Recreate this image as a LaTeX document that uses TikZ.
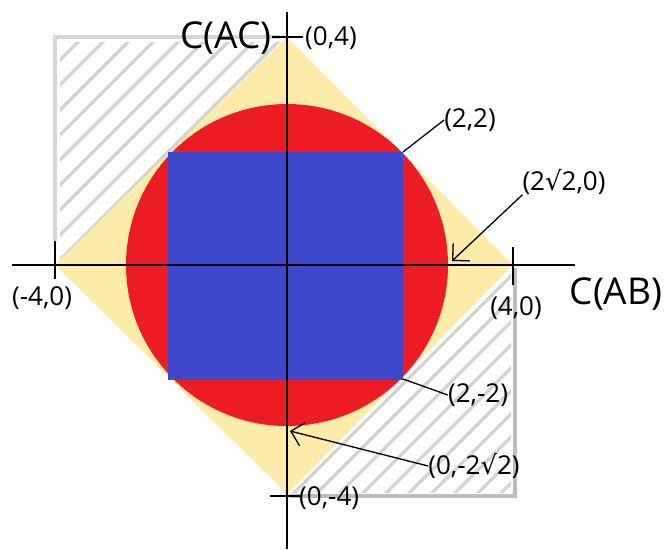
\documentclass[tikz,border=0pt]{standalone}
\usepackage{fontspec}
\setmainfont{Open Sans}
\newfontfamily\symfont{DejaVu Sans}
\usetikzlibrary{arrows.meta}
\definecolor{yellowc}{HTML}{FDEBA9}
\definecolor{redc}{HTML}{ED1C24}
\definecolor{bluec}{HTML}{3F48CC}
\definecolor{hatchc}{HTML}{D4D4D4}
\definecolor{borderA}{HTML}{D6D6D6}
\definecolor{borderB}{HTML}{BDBDBD}
\begin{document}
\begin{tikzpicture}[x=1pt,y=-1pt,
  lbl/.style={font=\fontsize{26}{30}\selectfont, inner sep=0pt},
  axlbl/.style={font=\fontsize{37}{42}\selectfont, inner sep=0pt},
  hatchline/.style={draw=hatchc, line width=3.2pt, line cap=round},
  axisline/.style={draw=black, line width=1.8pt},
  leader/.style={draw=black, line width=1.3pt},
  pointer/.style={leader, -{Straight Barb[length=12pt,width=24pt,line width=1.3pt]}}]
\useasboundingbox (0,0) rectangle (664,549);
% hatched regions
\begin{scope}
  \clip (60,42) rectangle (287,262);
  \foreach \c in {95,120,...,570} \draw[hatchline] (\c-300,300) -- (\c+300,-300);
\end{scope}
\begin{scope}
  \clip (290,268) rectangle (511,492);
  \foreach \c in {580,603,...,1050} \draw[hatchline] (\c-600,600) -- (\c+300,-300);
\end{scope}
\draw[borderA, line width=4pt] (55,241) -- (55,37) -- (280,37);
\draw[borderB, line width=4pt] (515,268) -- (515,496) -- (290,496);
% shapes
\fill[yellowc] (287,37) -- (513,265) -- (287,494) -- (55,265) -- cycle;
\fill[redc] (287,265) circle (161);
\fill[bluec] (168,152) rectangle (403,380);
% points
\coordinate (O) at (287,265);
\coordinate (p22) at (403,152);
\coordinate (p2m2) at (403,379);
\coordinate (pr) at (452,261);
\coordinate (pb) at (290,431);
% axes
\coordinate (xl) at (12,265);
\coordinate (xr) at (575,265);
\coordinate (yt) at (287,12);
\coordinate (yb) at (287,549);
\draw[axisline] (xl) -- (xr);
\draw[axisline] (yt) -- (yb);
\coordinate (tl1) at (55,241); \coordinate (tl2) at (55,279);
\coordinate (tr1) at (513,247); \coordinate (tr2) at (513,285);
\coordinate (tt1) at (272,37); \coordinate (tt2) at (303,37);
\coordinate (tb1) at (270,496); \coordinate (tb2) at (300,496);
\draw[axisline] (tl1) -- (tl2);
\draw[axisline] (tr1) -- (tr2);
\draw[axisline] (tt1) -- (tt2);
\draw[axisline] (tb1) -- (tb2);
% labels
\node[axlbl, anchor=east] (cac) at (272,38) {C(AC)};
\node[axlbl] (cab) at (616,294) {C(AB)};
\node[lbl, anchor=west] (l04) at (305,38) {(0,4)};
\node[lbl] (l22) at (470,120) {(2,2)};
\node[lbl] (l2r) at (564,182) {(2{\symfont √}2,0)};
\node[lbl] (lm40) at (42,298) {(-4,0)};
\node[lbl] (l40) at (516,308) {(4,0)};
\node[lbl] (l2m2) at (478,395) {(2,-2)};
\node[lbl] (l0m) at (474,466) {(0,-2{\symfont √}2)};
\node[lbl, anchor=west] (l0m4) at (299,498) {(0,-4)};
% connectors
\draw[leader] (p22) -- (l22.west);
\draw[leader] (p2m2) -- (l2m2.west);
\draw[pointer] (l2r.south west) -- (pr);
\draw[pointer] (l0m.west) -- (pb);
\end{tikzpicture}
\end{document}
